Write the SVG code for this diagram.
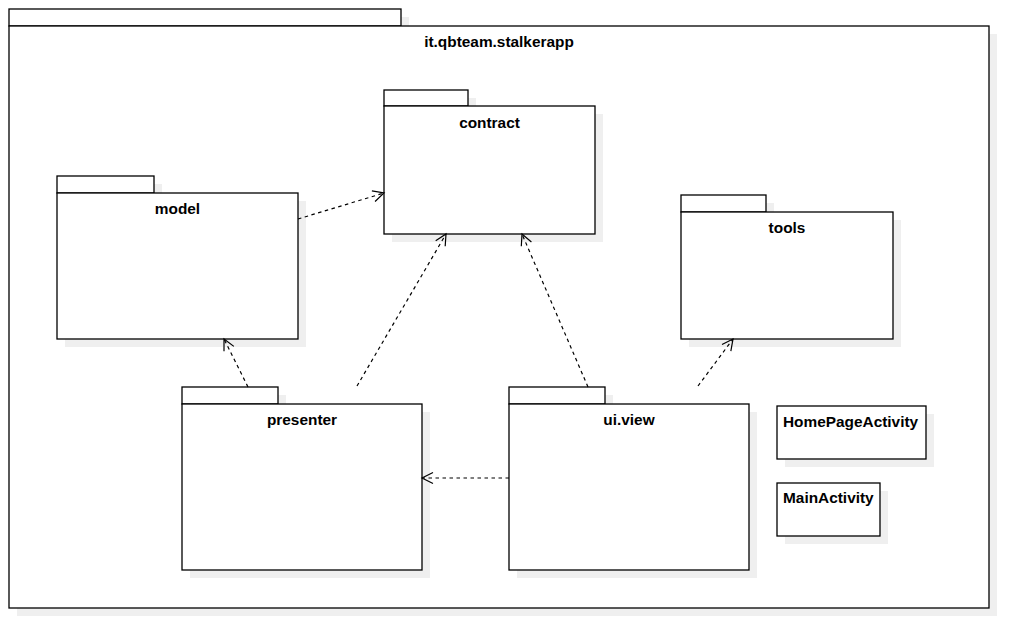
<svg xmlns="http://www.w3.org/2000/svg" width="1010" height="627" viewBox="0 0 1010 627">
<defs>
<style>
.sh{fill:#efefef;stroke:none}
.pk{fill:#fff;stroke:#000;stroke-width:1.3}
.lbl{font-family:"Liberation Sans",Arial,sans-serif;font-weight:bold;font-size:15.4px;fill:#000}
.c{text-anchor:middle}
.dep{fill:none;stroke:#000;stroke-width:1.2;stroke-dasharray:3.5,3.5}
</style>
<marker id="open" markerUnits="userSpaceOnUse" markerWidth="14" markerHeight="14" refX="11" refY="6" orient="auto" overflow="visible">
<path d="M0,0.5 L11,6 L0,11.5" fill="none" stroke="#000" stroke-width="1.2" stroke-dasharray="none"/>
</marker>
</defs>
<rect width="1010" height="627" fill="#fff"/>
<g id="pkg-root">
<path class="sh" d="M17,17 H409 V34 H997 V616 H17 Z"/>
<rect class="pk" x="9" y="9" width="392" height="17"/>
<rect class="pk" x="9" y="26" width="980" height="582"/>
<text class="lbl c" x="499" y="47">it.qbteam.stalkerapp</text>
</g>
<g id="pkg-contract">
<path class="sh" d="M392,98 H476 V114 H603 V242 H392 Z"/>
<rect class="pk" x="384" y="90" width="84" height="16"/>
<rect class="pk" x="384" y="106" width="211" height="128"/>
<text class="lbl c" x="489.5" y="128">contract</text>
</g>
<g id="pkg-model">
<path class="sh" d="M65,184 H162 V201 H306 V347 H65 Z"/>
<rect class="pk" x="57" y="176" width="97" height="17"/>
<rect class="pk" x="57" y="193" width="241" height="146"/>
<text class="lbl c" x="177.5" y="214">model</text>
</g>
<g id="pkg-tools">
<path class="sh" d="M689,203 H774 V220 H901 V347 H689 Z"/>
<rect class="pk" x="681" y="195" width="85" height="17"/>
<rect class="pk" x="681" y="212" width="212" height="127"/>
<text class="lbl c" x="787" y="233">tools</text>
</g>
<g id="pkg-presenter">
<path class="sh" d="M190,395 H286 V412 H430 V578 H190 Z"/>
<rect class="pk" x="182" y="387" width="96" height="17"/>
<rect class="pk" x="182" y="404" width="240" height="166"/>
<text class="lbl c" x="302" y="425">presenter</text>
</g>
<g id="pkg-uiview">
<path class="sh" d="M517,395 H613 V412 H757 V578 H517 Z"/>
<rect class="pk" x="509" y="387" width="96" height="17"/>
<rect class="pk" x="509" y="404" width="240" height="166"/>
<text class="lbl c" x="629" y="425">ui.view</text>
</g>
<g id="cls-homepage">
<rect class="sh" x="785" y="414" width="149" height="53"/>
<rect class="pk" x="777" y="406" width="149" height="53"/>
<text class="lbl" x="783" y="426.5">HomePageActivity</text>
</g>
<g id="cls-main">
<rect class="sh" x="785" y="491" width="103" height="53"/>
<rect class="pk" x="777" y="483" width="103" height="53"/>
<text class="lbl" x="783" y="503">MainActivity</text>
</g>
<g id="connectors">
<line class="dep" x1="298" y1="219" x2="384" y2="193" marker-end="url(#open)"/>
<line class="dep" x1="357" y1="386" x2="446" y2="234" marker-end="url(#open)"/>
<line class="dep" x1="248" y1="387" x2="224" y2="339" marker-end="url(#open)"/>
<line class="dep" x1="588" y1="387" x2="522" y2="234" marker-end="url(#open)"/>
<line class="dep" x1="698" y1="386" x2="733" y2="339" marker-end="url(#open)"/>
<line class="dep" x1="509" y1="478" x2="422" y2="478" marker-end="url(#open)"/>
</g>
</svg>
